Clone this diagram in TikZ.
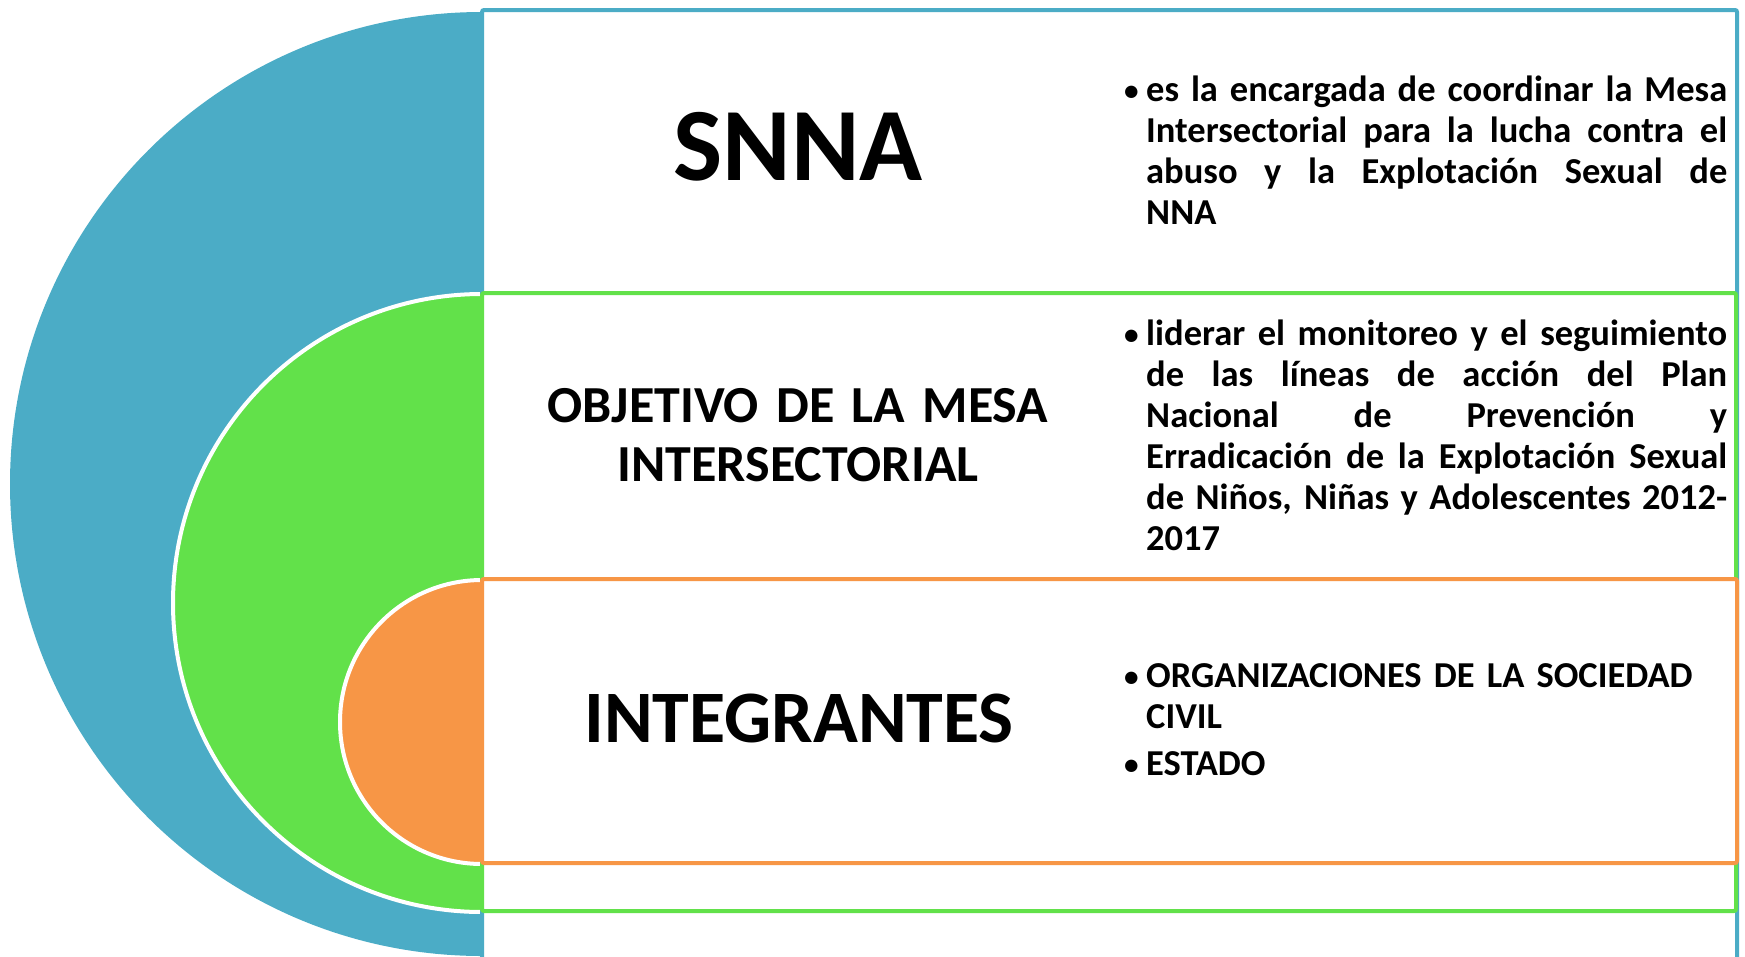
\documentclass[tikz,border=0pt]{standalone}
\usepackage{fontspec}
\usepackage{graphicx}
\setmainfont{Carlito}
\definecolor{cblue}{HTML}{4BACC6}
\definecolor{cgreen}{HTML}{62E14A}
\definecolor{corange}{HTML}{F79646}
\newcommand{\bul}{\leavevmode\hangindent=22pt\hangafter=1\makebox[22pt][l]{\raisebox{1pt}{\scalebox{0.8}{\textbullet}}}}
\begin{document}
\begin{tikzpicture}[x=1pt,y=-1pt,
  box/.style={line width=4pt, rounded corners=2pt, fill=white},
  disc/.style={draw=white, line width=4pt},
  head/.style={inner sep=0pt, anchor=base},
  para/.style={inner sep=0pt, anchor=base west, text width=603pt,
    font=\fontsize{36.5}{41}\selectfont\bfseries}]
\useasboundingbox (0,0) rectangle (1745,956);
\clip (0,0) rectangle (1745,956);
% half discs
\fill[cblue] (482,12) arc[start angle=270, end angle=90, radius=472] -- cycle;
\filldraw[cgreen, disc] (482,294) arc[start angle=270, end angle=90, radius=309] -- cycle;
\filldraw[corange, disc] (482,580) arc[start angle=270, end angle=90, radius=142] -- cycle;
% boxes
\draw[box, draw=cblue] (482,10) rectangle (1737,1000);
\draw[box, draw=cgreen] (482,293) rectangle (1736,911);
\draw[box, draw=corange] (482,579) rectangle (1737,863);
% headings
\node[head, font=\fontsize{104}{120}\selectfont\bfseries] (h1) at (798,180) {SNNA};
\node[head, text width=600pt, align=center, font=\fontsize{52}{59}\selectfont\bfseries] (h2) at (798,422) {OBJETIVO DE LA MESA\\INTERSECTORIAL};
\node[head, font=\fontsize{74}{80}\selectfont\bfseries] (h3) at (799,742) {INTEGRANTES};
% paragraphs
\node[para, align=justify] (p1) at (1124,101) {\bul es la encargada de coordinar la Mesa\linebreak Intersectorial para la lucha contra el\linebreak abuso y la Explotación Sexual de\linebreak NNA\par};
\node[para, align=justify] (p2) at (1124,345) {\bul liderar el monitoreo y el seguimiento\linebreak de las líneas de acción del Plan\linebreak Nacional de Prevención y\linebreak Erradicación de la Explotación Sexual\linebreak de Niños, Niñas y Adolescentes 2012-\linebreak{}2017\par};
\node[para, align=left] (p3) at (1124,687) {\parskip=6pt\bul ORGANIZACIONES DE LA SOCIEDAD\linebreak CIVIL\par\bul ESTADO\par};
\end{tikzpicture}
\end{document}
